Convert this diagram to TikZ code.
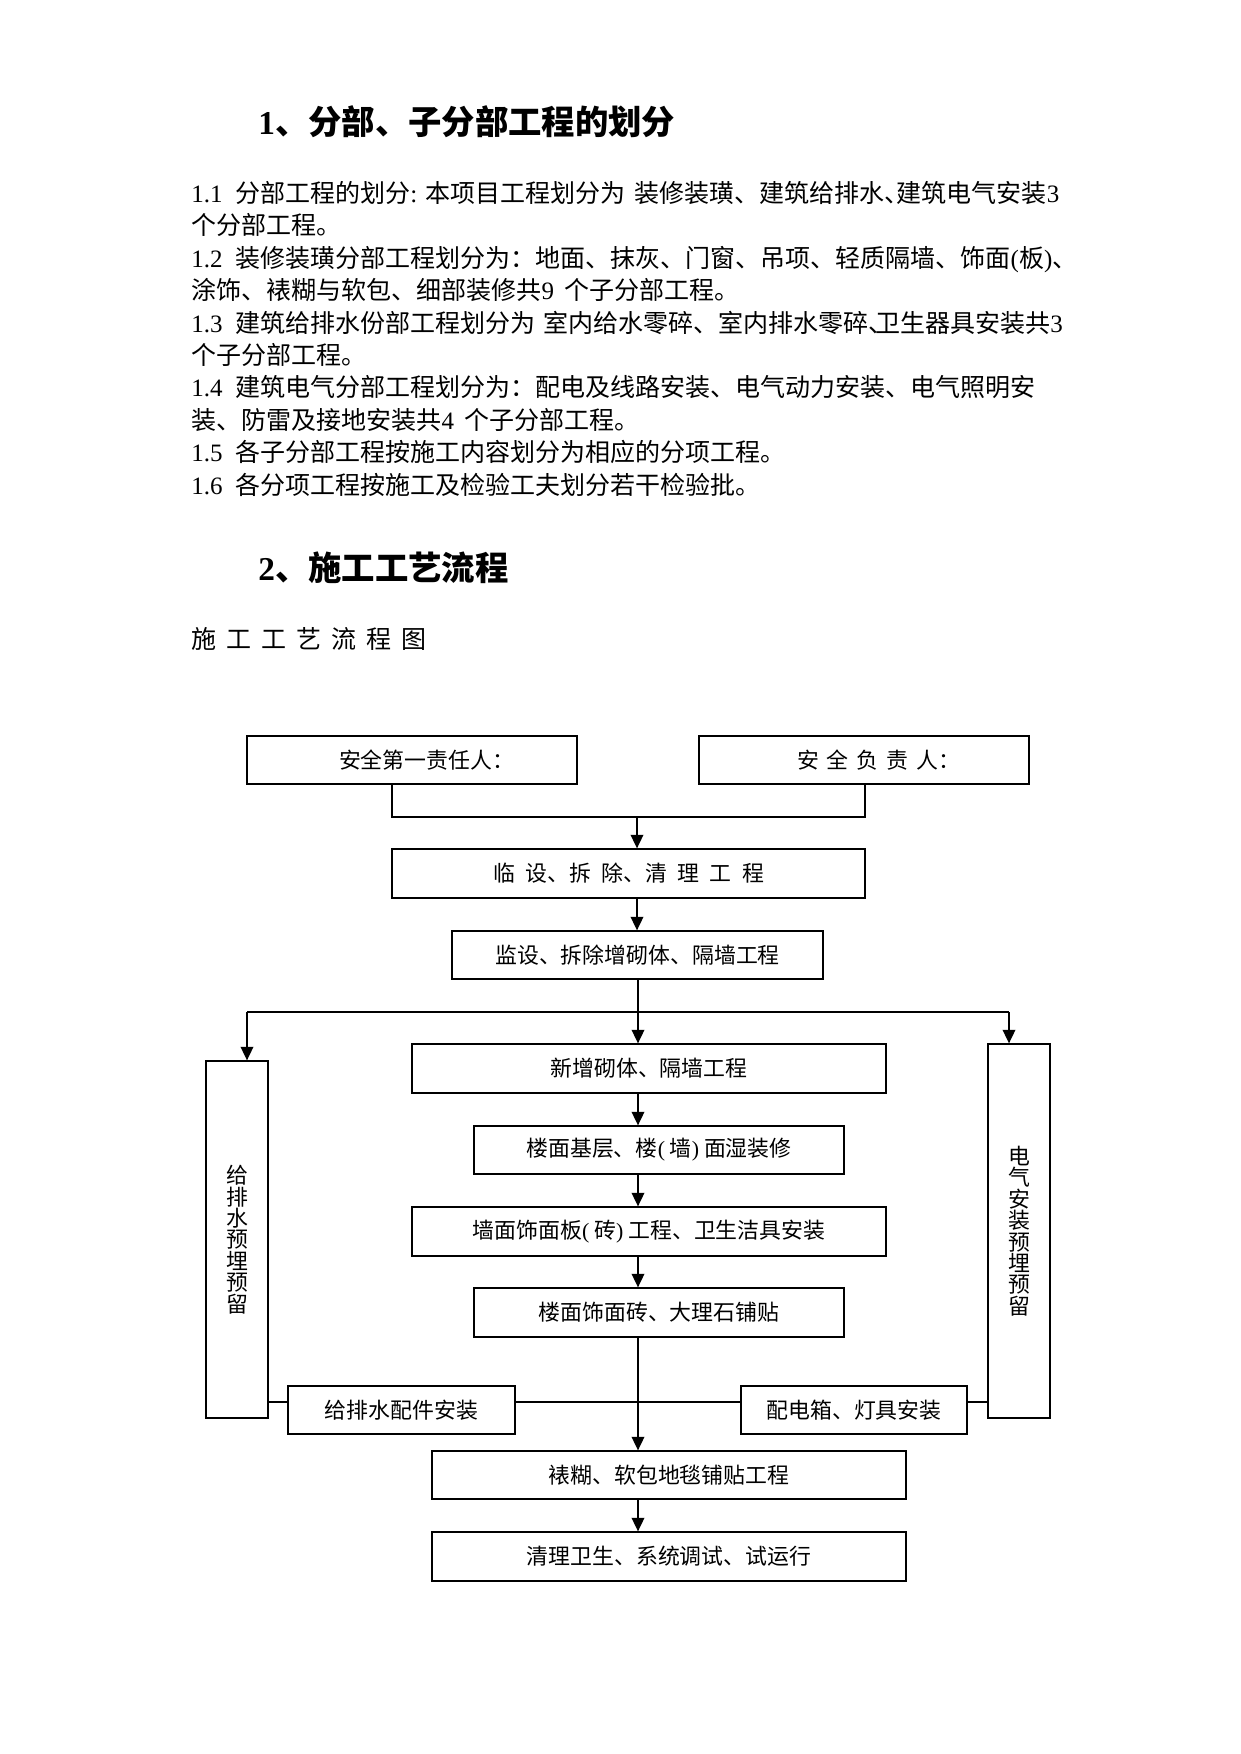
\documentclass[tikz,border=0pt]{standalone}
\usepackage{fontspec}
\setmainfont{Liberation Serif}
\newfontfamily\cjk{Noto Sans CJK SC}
\usetikzlibrary{arrows.meta}
\newlength\pxu
\setlength\pxu{0.4797pt}
\newcommand\gapsp[1]{\spaceskip=#1\relax}
\newcommand\tightlines{\lineskiplimit=-100pt\relax}

\begin{document}
\begin{tikzpicture}[x=\pxu, y=-\pxu,
  para/.style={anchor=base west, inner sep=0pt, font=\cjk\fontsize{12pt}{14pt}\selectfont},
  head/.style={anchor=base west, inner sep=0pt, font=\cjk\bfseries\fontsize{16pt}{19pt}\selectfont},
  flowbox/.style={draw, line width=0.6pt, inner sep=0pt, font=\cjk\fontsize{10.5pt}{12pt}\selectfont},
  sidebox/.style={flowbox, align=center, minimum width=62\pxu,
    font=\cjk\fontsize{10.5pt}{10.27pt}\selectfont\tightlines},
  link/.style={line width=0.9pt},
  flow/.style={line width=0.9pt, -{Triangle[length=6.5pt, width=6pt]}}]

\useasboundingbox (0,0) rectangle (1241,1754);

% 标题与说明
\node[head] (h1) at (258,134.7) {{\rmfamily\bfseries 1}、分部、子分部工程的划分};
\node[para] (p1) at (191,202.5) {{\rmfamily 1.1}\hspace{6pt}分部工程的划分{\rmfamily :}\hspace{4pt}本项目工程划分为\hspace{4pt}装修装璜、建筑给排水、\kern-6pt建筑电气安装{\rmfamily 3}};
\node[para] (p2) at (191,234.9) {个分部工程。};
\node[para] (p3) at (191,267.3) {{\rmfamily 1.2}\hspace{6pt}装修装璜分部工程划分为：地面、抹灰、门窗、吊项、轻质隔墙、饰面{\rmfamily (}板{\rmfamily )}、};
\node[para] (p4) at (191,299.7) {涂饰、裱糊与软包、细部装修共{\rmfamily 9}\hspace{5pt}个子分部工程。};
\node[para] (p5) at (191,332.1) {{\rmfamily 1.3}\hspace{6pt}建筑给排水份部工程划分为\hspace{4pt}室内给水零碎、室内排水零碎、\kern-9pt卫生器具安装共{\rmfamily 3}};
\node[para] (p6) at (191,364.5) {个子分部工程。};
\node[para] (p7) at (191,396.9) {{\rmfamily 1.4}\hspace{6pt}建筑电气分部工程划分为：配电及线路安装、电气动力安装、电气照明安};
\node[para] (p8) at (191,429.3) {装、防雷及接地安装共{\rmfamily 4}\hspace{5pt}个子分部工程。};
\node[para] (p9) at (191,461.7) {{\rmfamily 1.5}\hspace{6pt}各子分部工程按施工内容划分为相应的分项工程。};
\node[para] (p10) at (191,494.1) {{\rmfamily 1.6}\hspace{6pt}各分项工程按施工及检验工夫划分若干检验批。};
\node[head] (h2) at (258,580.7) {{\rmfamily\bfseries 2}、施工工艺流程};
\node[para, font=\cjk\fontsize{12pt}{14pt}\selectfont\gapsp{4.8pt}] (cap) at (191,648.5) {施 工 工 艺 流 程 图};

% 流程框
\node[flowbox, minimum width=330\pxu, minimum height=48\pxu] (safe1) at (412,760) {\hspace*{14pt}安全第一责任人：};
\node[flowbox, minimum width=330\pxu, minimum height=48\pxu,
  font=\cjk\fontsize{10.5pt}{12pt}\selectfont\gapsp{3.8pt}] (safe2) at (864,760) {\hspace*{14pt}安 全 负 责 人：};
\node[flowbox, minimum width=473\pxu, minimum height=49\pxu,
  font=\cjk\fontsize{10.5pt}{12pt}\selectfont\gapsp{5pt}] (lin) at (628.5,873.5) {临 设、拆 除、清 理 工 程};
\node[flowbox, minimum width=371\pxu, minimum height=48\pxu] (jian) at (637.5,955) {监设、拆除增砌体、隔墙工程};
\node[flowbox, minimum width=474\pxu, minimum height=49\pxu] (xin) at (649,1068.5) {新增砌体、隔墙工程};
\node[flowbox, minimum width=370\pxu, minimum height=48\pxu] (lou1) at (659,1150) {楼面基层、楼{\rmfamily (} 墙{\rmfamily )} 面湿装修};
\node[flowbox, minimum width=474\pxu, minimum height=49\pxu] (qiang) at (649,1231.5) {墙面饰面板{\rmfamily (} 砖{\rmfamily )} 工程、卫生洁具安装};
\node[flowbox, minimum width=370\pxu, minimum height=49\pxu] (lou2) at (659,1312.5) {楼面饰面砖、大理石铺贴};
\node[flowbox, minimum width=227\pxu, minimum height=48\pxu] (gei) at (401.5,1410) {给排水配件安装};
\node[flowbox, minimum width=226\pxu, minimum height=48\pxu] (pei) at (854,1410) {配电箱、灯具安装};
\node[flowbox, minimum width=474\pxu, minimum height=48\pxu] (biao) at (669,1475) {裱糊、软包地毯铺贴工程};
\node[flowbox, minimum width=474\pxu, minimum height=49\pxu] (qingli) at (669,1556.5) {清理卫生、系统调试、试运行};
\node[sidebox, minimum height=357\pxu] (gps) at (237,1239.5) {给\\排\\水\\预\\埋\\预\\留};
\node[sidebox, minimum height=374\pxu] (dq) at (1019,1231) {电\\气\\安\\装\\预\\埋\\预\\留};

% 连线
\coordinate (joinL) at (392,817);
\coordinate (joinR) at (865,817);
\coordinate (joinM) at (637,817);
\coordinate (spine) at (638,0);
\coordinate (forkL) at (247,1012);
\coordinate (forkR) at (1009,1012);
\coordinate (tie) at (638,1402);

\draw[link] (safe1.south -| joinL) |- (joinR) -- (safe2.south -| joinR);
\draw[flow] (joinM) -- (lin.north -| joinM);
\draw[flow] (lin.south -| joinM) -- (jian.north -| joinM);
\draw[link] (forkL) -- (forkR);
\draw[flow] (forkL) -- (gps.north -| forkL);
\draw[flow] (forkR) -- (dq.north -| forkR);
\draw[flow] (jian.south -| spine) -- (xin.north -| spine);
\draw[flow] (xin.south -| spine) -- (lou1.north -| spine);
\draw[flow] (lou1.south -| spine) -- (qiang.north -| spine);
\draw[flow] (qiang.south -| spine) -- (lou2.north -| spine);
\draw[flow] (lou2.south -| spine) -- (biao.north -| spine);
\draw[flow] (biao.south -| spine) -- (qingli.north -| spine);
\draw[link] (gps.east |- tie) -- (gei.west |- tie);
\draw[link] (gei.east |- tie) -- (tie) -- (pei.west |- tie);
\draw[link] (pei.east |- tie) -- (dq.west |- tie);

\end{tikzpicture}
\end{document}
